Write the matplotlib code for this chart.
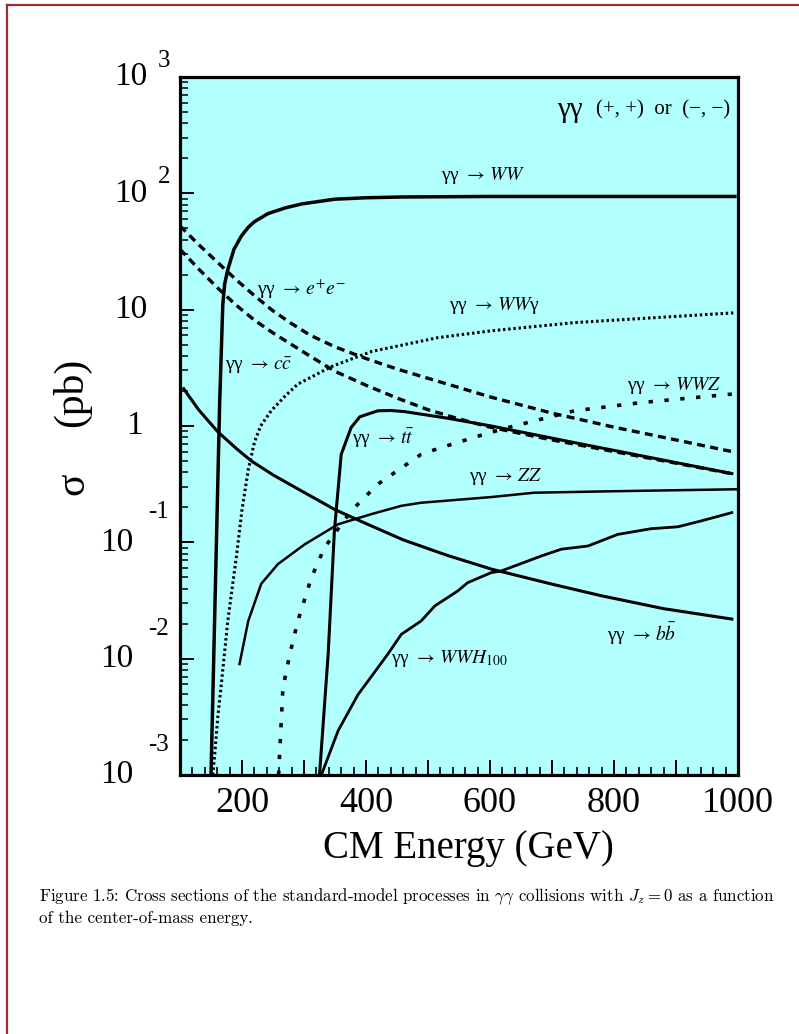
import matplotlib
matplotlib.use("Agg")
import matplotlib.pyplot as plt
from matplotlib.lines import Line2D
from matplotlib.ticker import MultipleLocator, FuncFormatter, NullFormatter, LogLocator
from matplotlib.transforms import offset_copy

# curves: (CM energy in GeV, cross section in pb)
ww_e = [150, 157, 164, 169, 172, 177, 187, 199, 210, 220, 242, 270, 296, 349, 400, 457, 600, 800, 995]
ww_s = [1e-3, 0.04, 1.6, 11, 16.6, 22, 33, 43, 51, 57, 67, 75, 81, 89, 91.6, 93, 94, 94, 94]

ee_e = [100, 130, 160, 190, 220, 250, 280, 310, 350, 400, 450, 500, 550, 600, 700, 800, 900, 990]
ee_s = [52.5, 36.3, 25.7, 18.2, 13.2, 9.77, 7.59, 6.03, 4.79, 3.80, 3.09, 2.57, 2.14, 1.78,
        1.29, 0.977, 0.759, 0.603]

cc_e = [100, 130, 160, 190, 220, 250, 280, 310, 350, 400, 450, 500, 550, 600, 700, 800, 900, 990]
cc_s = [33.1, 22.4, 15.5, 11.0, 8.13, 6.31, 5.01, 3.98, 2.95, 2.24, 1.74, 1.38, 1.15, 0.977,
        0.759, 0.603, 0.479, 0.389]

tt_e = [325, 339, 349, 360, 376, 390, 419, 440, 462, 530, 602, 736, 990]
tt_s = [1e-3, 0.011, 0.125, 0.57, 0.97, 1.2, 1.35, 1.36, 1.33, 1.17, 1.0, 0.72, 0.39]

bb_e = [106, 130, 161, 190, 215, 250, 300, 350, 400, 460, 530, 602, 700, 780, 880, 990]
bb_s = [2.09, 1.38, 0.891, 0.646, 0.501, 0.380, 0.269, 0.191, 0.145, 0.105, 0.0776, 0.0589,
        0.0437, 0.0347, 0.0269, 0.0219]

zz_e = [196, 210, 231, 258, 301, 355, 409, 457, 489, 602, 671, 800, 1000]
zz_s = [0.009, 0.021, 0.044, 0.065, 0.096, 0.143, 0.175, 0.206, 0.219, 0.245, 0.267, 0.275, 0.286]

wwh_e = [328, 355, 387, 435, 457, 489, 511, 548, 564, 602, 618, 683, 715, 758, 806, 860, 903, 941, 990]
wwh_s = [1e-3, 0.0024, 0.0049, 0.0109, 0.0162, 0.0211, 0.0284, 0.0382, 0.045, 0.0549, 0.0567,
         0.0764, 0.0873, 0.093, 0.117, 0.131, 0.136, 0.153, 0.18]

wwg_e = [153, 156, 161, 167, 177, 191, 200, 210, 220, 230, 247, 270, 290, 344, 409, 516, 602, 736, 995]
wwg_s = [1e-3, 0.00151, 0.00316, 0.00631, 0.0209, 0.0759, 0.19, 0.417, 0.724, 1.0, 1.35, 1.82,
         2.29, 3.24, 4.37, 5.75, 6.58, 7.74, 9.40]

wwz_e = [259, 266, 277, 290, 312, 333, 376, 419, 489, 521, 591, 629, 736, 844, 990]
wwz_s = [1e-3, 0.0056, 0.0109, 0.021, 0.0498, 0.090, 0.186, 0.316, 0.571, 0.652, 0.85, 0.97,
         1.35, 1.59, 1.88]

# curve labels: (text, energy, cross section)
labels = [
    (r"γγ $\rightarrow\,WW$", 589, 141),
    (r"γγ $\rightarrow\,e^{+}e^{-}$", 296, 15.1),
    (r"γγ $\rightarrow\,WW$γ", 607, 10.8),
    (r"γγ $\rightarrow\,c\bar{c}$", 226, 3.29),
    (r"γγ $\rightarrow\,WWZ$", 897, 2.21),
    (r"γγ $\rightarrow\,t\bar{t}$", 428, 0.79),
    (r"γγ $\rightarrow\,ZZ$", 625, 0.365),
    (r"γγ $\rightarrow\,b\bar{b}$", 844, 0.0163),
    (r"γγ $\rightarrow\,WWH_{100}$", 534, 0.0101),
]

decades = [1e3, 1e2, 1e1, 1e0, 1e-1, 1e-2, 1e-3]
exponents = ["3", "2", "", "", "-1", "-2", "-3"]

plt.rcParams["font.family"] = ["Liberation Serif", "DejaVu Serif"]
plt.rcParams["mathtext.fontset"] = "stix"

W, H = 799, 1034
fig = plt.figure(figsize=(W / 100, H / 100), dpi=100)
ax = fig.add_axes([180 / W, 1 - 775 / H, 558 / W, 698 / H])
ax.set_facecolor("#b2ffff")

ax.set_yscale("log")
ax.set_xlim(100, 1000)
ax.set_ylim(1e-3, 1e3)

ax.plot(ww_e, ww_s, color="black", lw=2.5)
ax.plot(ee_e, ee_s, color="black", lw=2.4, dashes=(2.4, 1.6))
ax.plot(cc_e, cc_s, color="black", lw=2.4, dashes=(2.4, 1.6))
ax.plot(tt_e, tt_s, color="black", lw=2.2)
ax.plot(bb_e, bb_s, color="black", lw=2.2)
ax.plot(zz_e, zz_s, color="black", lw=1.8)
ax.plot(wwh_e, wwh_s, color="black", lw=2.0)
ax.plot(wwg_e, wwg_s, color="black", lw=2.2, dashes=(0.8, 0.9))
ax.plot(wwz_e, wwz_s, color="black", lw=2.6, dashes=(1.2, 3.2))

for txt, e, s in labels:
    ax.text(e, s, txt, fontsize=14, ha="center", va="center")

ax.text(0.986, 0.953, "(+, +)  or  (−, −)", transform=ax.transAxes, fontsize=15,
        ha="right", va="center")
ax.text(0.722, 0.953, "γγ", transform=ax.transAxes, fontsize=21,
        ha="right", va="center")

for sp in ax.spines.values():
    sp.set_linewidth(2.3)

ax.xaxis.set_major_locator(MultipleLocator(100))
ax.xaxis.set_minor_locator(MultipleLocator(20))
ax.xaxis.set_major_formatter(FuncFormatter(lambda v, p: f"{int(v)}" if int(v) % 200 == 0 else ""))
ax.tick_params(axis="x", which="major", direction="in", length=11, width=1.4,
               labelsize=26, pad=9)
ax.tick_params(axis="x", which="minor", direction="in", length=6, width=1.2)

ax.yaxis.set_major_locator(LogLocator(base=10, numticks=10))
ax.yaxis.set_minor_locator(LogLocator(base=10, subs=range(2, 10), numticks=10))
ax.yaxis.set_major_formatter(NullFormatter())
ax.yaxis.set_minor_formatter(NullFormatter())
ax.tick_params(axis="y", which="major", direction="in", length=10, width=1.4)
ax.tick_params(axis="y", which="minor", direction="in", length=5.5, width=1.1)

# y tick labels drawn as "10" with a raised exponent, like the original
ytr = ax.get_yaxis_transform()
for d, ex in zip(decades, exponents):
    if ex == "":
        base = "10" if d == 10 else "1"
        xr = -0.059 if d == 10 else -0.066
        ax.text(xr, d, base, transform=ytr, fontsize=24, ha="right", va="center")
        continue
    neg = ex.startswith("-")
    xr = -0.084 if neg else -0.059
    xe = -0.057 if neg else -0.039
    up = 21.5 if neg else 11.5
    ax.text(xr, d, "10", transform=ytr, fontsize=24, ha="right", va="center")
    ax.text(xe, d, ex, fontsize=18, ha="left", va="center",
            transform=offset_copy(ytr, fig=fig, x=0, y=up, units="points"))

# axis titles
fig.text(73 / W, 1 - 484 / H, "σ", fontsize=30, rotation=90, ha="center", va="center")
fig.text(72 / W, 1 - 392 / H, "(pb)", fontsize=30, rotation=90, ha="center", va="center")
fig.text(468 / W, 1 - 858 / H, "CM Energy (GeV)", fontsize=28, ha="center", va="baseline")

# caption
cap1 = (r"Figure 1.5: Cross sections of the standard-model processes in $\gamma\gamma$ "
        r"collisions with $J_z = 0$ as a function")
cap2 = "of the center-of-mass energy."
for txt, yb in [(cap1, 901), (cap2, 923)]:
    fig.text(39 / W, 1 - yb / H, txt, fontsize=12.2, family="cmr10", math_fontfamily="cm",
             ha="left", va="baseline")

# page frame (only top and left edges fall inside the picture)
frame = "#a32a2a"
fig.add_artist(Line2D([7 / W, 7 / W], [0, 1 - 5 / H], transform=fig.transFigure,
                      color=frame, lw=1.6))
fig.add_artist(Line2D([7 / W, 1], [1 - 5 / H, 1 - 5 / H], transform=fig.transFigure,
                      color=frame, lw=1.6))

fig.savefig("out.png", dpi=100, facecolor="white")
